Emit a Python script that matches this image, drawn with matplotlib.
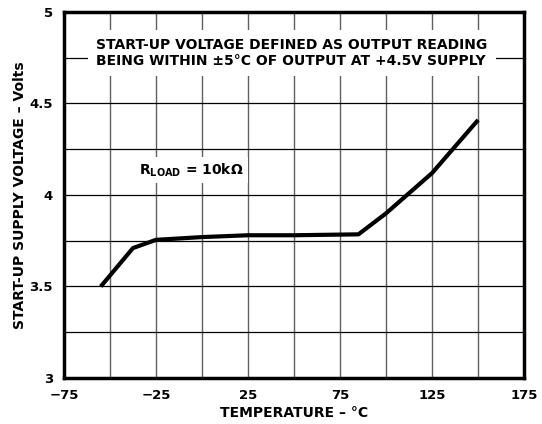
import matplotlib
matplotlib.use("Agg")
import matplotlib.pyplot as plt

# data
temps = [-55, -37.5, -25, 0, 25, 50, 85, 100, 125, 150]
volts = [3.50, 3.71, 3.755, 3.77, 3.78, 3.78, 3.785, 3.90, 4.12, 4.41]

x_ticks = [-75, -50, -25, 0, 25, 50, 75, 100, 125, 150, 175]
x_labels = ["\u221275", "", "\u221225", "", "25", "", "75", "", "125", "", "175"]
y_ticks = [3, 3.25, 3.5, 3.75, 4, 4.25, 4.5, 4.75, 5]
y_labels = ["3", "", "3.5", "", "4", "", "4.5", "", "5"]

plt.rcParams["font.family"] = ["DejaVu Sans"]
plt.rcParams["font.weight"] = "bold"
plt.rcParams["mathtext.fontset"] = "custom"
plt.rcParams["mathtext.rm"] = "DejaVu Sans:bold"
plt.rcParams["mathtext.bf"] = "DejaVu Sans:bold"
plt.rcParams["mathtext.default"] = "bf"

fig = plt.figure(figsize=(5.42, 4.24), dpi=100)
ax = fig.add_axes([0.118, 0.1085, 0.849, 0.8632])

ax.set_xlim(-75, 175)
ax.set_ylim(3, 5)
ax.set_xticks(x_ticks)
ax.set_xticklabels(x_labels)
ax.set_yticks(y_ticks)
ax.set_yticklabels(y_labels)
ax.tick_params(length=0, labelsize=9.5, pad=8)
for lbl in ax.get_xticklabels() + ax.get_yticklabels():
    lbl.set_fontweight("bold")

ax.grid(True, axis="x", color="#606060", lw=1.0)
ax.grid(True, axis="y", color="black", lw=0.9)
ax.set_axisbelow(True)
for s in ax.spines.values():
    s.set_linewidth(2.5)

ax.plot(temps, volts, color="black", lw=3.0, solid_capstyle="butt", zorder=3)

ax.text(-57.5, 4.776,
        "START-UP VOLTAGE DEFINED AS OUTPUT READING\nBEING WITHIN \u00b15\u00b0C OF OUTPUT AT +4.5V SUPPLY",
        fontsize=10, fontweight="bold", va="center", ha="left", linespacing=1.2,
        bbox=dict(facecolor="white", edgecolor="none", pad=6), zorder=4)
ax.text(-34, 4.137, "R$_{\\mathbf{LOAD}}$ = 10k\u03a9",
        fontsize=10, fontweight="bold", va="center", ha="left",
        bbox=dict(facecolor="white", edgecolor="none", pad=3), zorder=4)

ax.set_xlabel("TEMPERATURE \u2013 \u00b0C", fontsize=10, fontweight="bold", labelpad=3)
ax.set_ylabel("START-UP SUPPLY VOLTAGE \u2013 Volts", fontsize=10, fontweight="bold", va="center")
ax.yaxis.set_label_coords(-0.096, 0.5)

fig.savefig("out.png", dpi=100)
